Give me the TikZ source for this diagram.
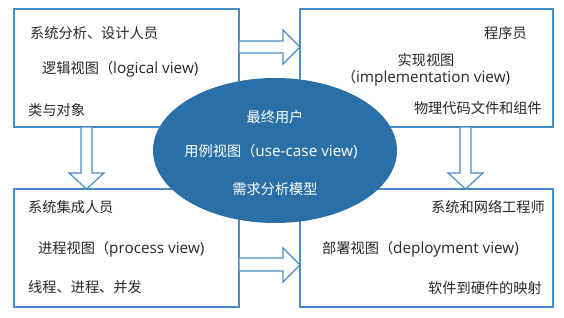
\documentclass[tikz,border=0pt]{standalone}
\usepackage{fontspec}
\setmainfont{Noto Sans CJK SC}
\newfontfamily\latfont{Open Sans}
\newcommand{\lat}[1]{{\latfont\fontsize{15.3}{17}\selectfont #1}}
\definecolor{boxline}{RGB}{74,140,198}
\definecolor{ellfill}{RGB}{42,112,166}
\definecolor{txt}{RGB}{40,40,40}
\begin{document}
\begin{tikzpicture}[x=1pt,y=-1pt,
  viewbox/.style={draw=boxline,line width=1.3pt,fill=white,minimum height=118pt,inner sep=0pt},
  blockarrow/.style={draw=boxline,line width=1.2pt,fill=white,line join=miter},
  lbl/.style={font=\fontsize{14.2}{17}\selectfont,text=txt,inner sep=0pt},
  elbl/.style={font=\fontsize{14.2}{17}\selectfont,text=white,inner sep=0pt}]
\useasboundingbox (0,0) rectangle (564,318);
% boxes
\node[viewbox,minimum width=225pt] (tl) at (126.5,68) {};
\node[viewbox,minimum width=253pt] (tr) at (426.5,68) {};
\node[viewbox,minimum width=225pt] (bl) at (126.5,248) {};
\node[viewbox,minimum width=253pt] (br) at (426.5,248) {};
% block arrows
\draw[blockarrow] (239.7,41) -- (283,41) -- (283,30) -- (300,47) -- (283,64) -- (283,53) -- (239.7,53);
\draw[blockarrow] (239.7,258) -- (283,258) -- (283,248) -- (300,265) -- (283,282) -- (283,271) -- (239.7,271);
\draw[blockarrow] (81,127.6) -- (81,173) -- (69,173) -- (86.5,189) -- (104,173) -- (92,173) -- (92,127.6);
\draw[blockarrow] (460,127.6) -- (460,173) -- (448,173) -- (465.5,189) -- (483,173) -- (471,173) -- (471,127.6);
% redraw box borders under arrow tips
\draw[boxline,line width=1.3pt] (tr.north west) -- (tr.south west);
\draw[boxline,line width=1.3pt] (br.north west) -- (br.south west);
\draw[boxline,line width=1.3pt] (bl.north west) -- (bl.north east);
\draw[boxline,line width=1.3pt] (br.north west) -- (br.north east);
% ellipse
\fill[ellfill] (275,150.5) ellipse [x radius=122, y radius=72.5];
\node[elbl] (e1) at (275,117) {最终用户};
\node[elbl] (e2) at (271,152) {用例视图（\lat{use-case view)}};
\node[elbl] (e3) at (275,189) {需求分析模型};
% top-left texts
\node[lbl,anchor=west] (tl1) at (30,33) {系统分析、设计人员};
\node[lbl,anchor=west] (tl2) at (42,69) {逻辑视图（\lat{logical view)}};
\node[lbl,anchor=west] (tl3) at (28,110) {类与对象};
% top-right texts
\node[lbl,anchor=east] (tr1) at (527,33) {程序员};
\node[lbl] (tr2) at (426,60) {实现视图};
\node[lbl] (tr3) at (426,78) {（\lat{implementation view)}};
\node[lbl,anchor=east] (tr4) at (542,108) {物理代码文件和组件};
% bottom-left texts
\node[lbl,anchor=west] (bl1) at (28,207) {系统集成人员};
\node[lbl,anchor=west] (bl2) at (38,249) {进程视图（\lat{process view)}};
\node[lbl,anchor=west] (bl3) at (28,287) {线程、进程、并发};
% bottom-right texts
\node[lbl,anchor=east] (br1) at (545,207) {系统和网络工程师};
\node[lbl,anchor=west] (br2) at (322,249) {部署视图（\lat{deployment view)}};
\node[lbl,anchor=east] (br3) at (542,288) {软件到硬件的映射};
\end{tikzpicture}
\end{document}
